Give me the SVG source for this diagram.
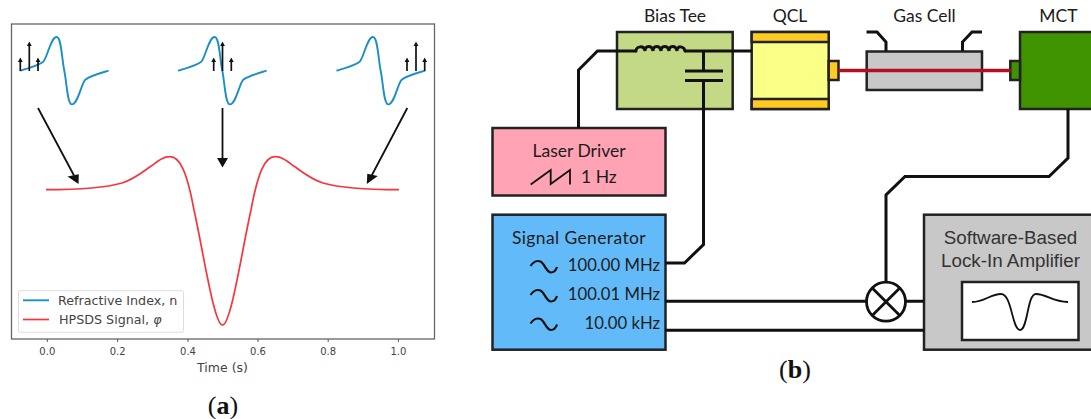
<svg xmlns="http://www.w3.org/2000/svg" xmlns:xlink="http://www.w3.org/1999/xlink" width="1091" height="419" viewBox="0 0 1091 419">
<style>
.box{stroke:#222;stroke-width:2.5}
.w{fill:none;stroke:#111;stroke-width:3;stroke-linejoin:miter}
.t{font-family:"Lato","Open Sans",sans-serif;font-size:17.5px;fill:#1c1c1c}
.n{font-family:"Lato","Open Sans",sans-serif;font-size:16.7px;fill:#1c1c1c}
.a{font-family:"Liberation Sans",Arial,sans-serif;font-size:18.8px;fill:#333}
.m{font-family:"DejaVu Sans",sans-serif;font-size:10px;fill:#444}
.l{font-family:"DejaVu Sans",sans-serif;font-size:12.7px;fill:#444}
.cap{font-family:"Liberation Serif",serif;font-size:26px;fill:#111}
.blue{fill:none;stroke:#1b8fc6;stroke-width:1.9}
.red{fill:none;stroke:#f5363f;stroke-width:1.7}
.ar{fill:none;stroke:#111;stroke-width:1.7}
.ah{fill:#111}
.sine{fill:none;stroke:#111;stroke-width:2.2}
</style>
<defs>
<path id="disp" class="blue" d="M-44.3 0C-36 -2.500 -26 -5 -21 -9C-17 -13 -13.500 -33.700 -7.700 -33.700C-3 -33.700 -2.500 -12 0 0C2.500 12 3 33.700 7.700 33.700C13.500 33.700 17 13 21 9C26 5 36 2.500 44.300 0"/>
<g id="up"><path class="ar" d="M0 0V-11"/><path class="ah" d="M0 -13.500L2.400 -9H-2.400Z"/></g>
<g id="up2"><path class="ar" d="M0 0V-27"/><path class="ah" d="M0 -29.500L2.400 -25H-2.400Z"/></g>
<path id="sn" class="sine" d="M530.500 266C533 262 537 260 540.500 261.500C544.500 263.500 546.500 272.500 551 272.500C554 272.500 556 270 557 267"/>
</defs>
<g id="plot">
<rect x="11.500" y="24" width="423" height="315" fill="#fff" stroke="#666" stroke-width="1.300"/>
<path d="M47.300 339v3M117.600 339v3M188 339v3M258 339v3M328.200 339v3M398.400 339v3" stroke="#555" stroke-width="1"/>
<g class="m" text-anchor="middle">
<text x="47.300" y="354.500">0.0</text><text x="117.600" y="354.500">0.2</text><text x="188" y="354.500">0.4</text><text x="258" y="354.500">0.6</text><text x="328.200" y="354.500">0.8</text><text x="398.400" y="354.500">1.0</text>
<text x="222.500" y="371.500" font-size="12.500">Time (s)</text>
</g>
<path class="red" d="M46 189.700C80 189.700 105 188 122 183C135 179 145 170 152 165.500C158 161 163 156.700 170 156.700C180 156.700 187 172 194 210C203 250 214 325 222.500 325C231 325 242 250 251 210C258 172 265 156.700 275 156.700C282 156.700 287 161 293 165.500C300 170 310 179 323 183C340 188 365 189.700 399 189.700"/>
<use xlink:href="#disp" href="#disp" transform="translate(64.300 70.700)"/>
<use xlink:href="#disp" href="#disp" transform="translate(222.300 70.700)"/>
<use xlink:href="#disp" href="#disp" transform="translate(380.700 70.700)"/>
<use xlink:href="#up" href="#up" x="20.300" y="71"/><use xlink:href="#up2" href="#up2" x="29.300" y="71"/><use xlink:href="#up" href="#up" x="38" y="71"/>
<use xlink:href="#up" href="#up" x="213.700" y="71"/><use xlink:href="#up2" href="#up2" x="222.500" y="71"/><use xlink:href="#up" href="#up" x="231.300" y="71"/>
<use xlink:href="#up" href="#up" x="407" y="71"/><use xlink:href="#up2" href="#up2" x="416" y="71"/><use xlink:href="#up" href="#up" x="424.700" y="71"/>
<path d="M38 108L74 175.500M222.500 108V160M407.300 108L371.700 175.500" fill="none" stroke="#111" stroke-width="1.800"/>
<path class="ah" d="M78.500 184L67.500 176.500L78.800 174.300ZM222.500 167.500L217 158H228ZM366.800 184L367.300 173.800L377.800 176Z"/>
<rect x="18.500" y="290.700" width="165" height="41.500" rx="1.500" fill="#fff" stroke="#ddd" stroke-width="1"/>
<path class="blue" d="M23 300.300H49"/>
<path class="red" d="M23 319.500H49"/>
<text class="l" x="58" y="304.500">Refractive Index, n</text>
<text class="l" x="59" y="324">HPSDS Signal, <tspan font-style="italic">φ</tspan></text>
</g>
<g id="bias-tee">
<rect class="box" x="617" y="32" width="115.700" height="77" fill="#c4d985"/>
<text class="t" x="675" y="22" text-anchor="middle">Bias Tee</text>
</g>
<g id="qcl">
<rect class="box" x="751.700" y="32" width="77" height="77" fill="#faff85"/>
<rect class="box" x="751.700" y="32" width="77" height="10" fill="#ffcb20"/>
<rect class="box" x="751.700" y="99" width="77" height="10" fill="#ffcb20"/>
<rect class="box" x="828.700" y="61" width="9.800" height="19" fill="#ffcb20"/>
<text class="t" x="790" y="22" text-anchor="middle">QCL</text>
</g>
<g id="gas-cell">
<rect class="box" x="866.700" y="51.500" width="115.300" height="38.500" fill="#c8c8c8"/>
<path class="w" d="M866.500 32H877L886 42V51M982 32H972L962.500 42V51"/>
<text class="t" x="924.500" y="22" text-anchor="middle">Gas Cell</text>
</g>
<g id="mct">
<rect class="box" x="1020" y="32" width="90" height="77" fill="#409300"/>
<rect class="box" x="1010.300" y="61" width="9.700" height="19" fill="#409300"/>
<text class="t" x="1058.500" y="22" text-anchor="middle">MCT</text>
</g>
<g id="laser-driver">
<rect class="box" x="492.500" y="128" width="173" height="67.500" fill="#ffa3b5"/>
<text class="t" x="579" y="157" text-anchor="middle">Laser Driver</text>
<path d="M530.700 184.500L550.700 170V184L570 170V184.500" fill="none" stroke="#111" stroke-width="1.800"/>
<text class="t" x="581" y="183">1 Hz</text>
</g>
<g id="signal-generator">
<rect class="box" x="492.500" y="214.700" width="173" height="135" fill="#62bbf8"/>
<text class="t" x="512" y="243.700" textLength="133.700">Signal Generator</text>
<use xlink:href="#sn" href="#sn"/><use xlink:href="#sn" href="#sn" y="29"/><use xlink:href="#sn" href="#sn" y="57.500"/>
<text class="n" x="660" y="271" text-anchor="end">100.00 MHz</text>
<text class="n" x="660" y="300" text-anchor="end">100.01 MHz</text>
<text class="n" x="660" y="329" text-anchor="end">10.00 kHz</text>
</g>
<g id="lock-in">
<rect class="box" x="924" y="214.700" width="190" height="135" fill="#c8c8c8"/>
<text class="a" x="1010.500" y="243.500" text-anchor="middle">Software-Based</text>
<text class="a" x="1010.500" y="267" text-anchor="middle">Lock-In Amplifier</text>
<rect class="box" x="962" y="282" width="116.500" height="58" fill="#fff"/>
<path d="M972 302C985 302 990 294 1001 294C1012 294 1012 330 1020 330C1028 330 1027 294 1036 294C1047 294 1052 302 1068 302" fill="none" stroke="#111" stroke-width="1.800"/>
</g>
<g id="mixer">
<circle cx="886" cy="301.700" r="19.500" fill="#fff" stroke="#111" stroke-width="2.800"/>
<path d="M872.200 287.900L899.800 315.500M899.800 287.900L872.200 315.500" stroke="#111" stroke-width="2.800"/>
</g>
<g id="connectors">
<path d="M838.500 70.500H1010.500" fill="none" stroke="#b3101e" stroke-width="3.500"/>
<path class="w" d="M578.500 128V70L597.500 51H636M685 51H752M703.500 51V71M685 71H723M685 80.500H723M703.500 80.500V244.500L684.500 263H665.500"/>
<path class="w" stroke-linecap="round" d="M636 51C636 46 644 45 645 51C645 45 652 45 653 51C653 45 660 45 661 51C661 45 668 45 669 51C669 45 676 45 677 51C677 45 684 46 685 51"/>
<path class="w" d="M1068 109V158L1049 176.500H905L886 195V282M665.500 301.300H866M906 301.300H924M665.500 330.300H924"/>
</g>
<g id="captions">
<text class="cap" x="223" y="414" text-anchor="middle">(<tspan font-weight="bold">a</tspan>)</text>
<text class="cap" x="795" y="378" text-anchor="middle">(<tspan font-weight="bold">b</tspan>)</text>
</g>
</svg>
